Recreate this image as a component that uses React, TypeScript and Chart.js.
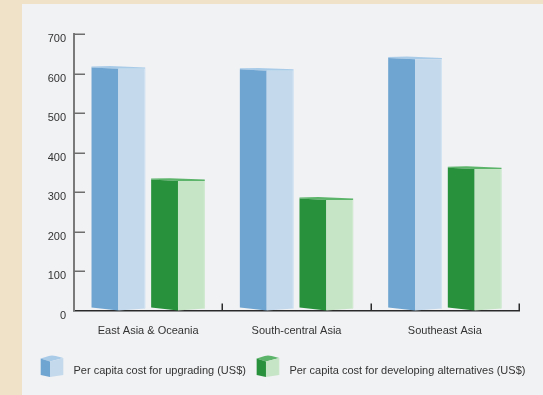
import React, { useEffect, useRef } from "react";
import { Chart, registerables } from "chart.js";

Chart.register(...registerables);

const categories = ["East Asia & Oceania", "South-central Asia", "Southeast Asia"];
const seriesLabels = [
  "Per capita cost for upgrading (US$)",
  "Per capita cost for developing alternatives (US$)",
];
const upgradingCost = [616, 611, 640];
const alternativesCost = [332, 284, 362];
const yMin = 0;
const yMax = 700;
const yStep = 100;

const FONT = "'Liberation Sans', Arial, Helvetica, sans-serif";
const TEXT = "#333333";

const palette = [
  { dark: "#6fa5d1", light: "#c4d9ec", top: "#a9cbe8", edge: "#d4e4f2" },
  { dark: "#28913b", light: "#c6e4c6", top: "#5cb46a", edge: "#d2ebd2" },
];

function poly(ctx: CanvasRenderingContext2D, pts: number[][], color: string) {
  ctx.beginPath();
  ctx.moveTo(pts[0][0], pts[0][1]);
  for (let i = 1; i < pts.length; i++) ctx.lineTo(pts[i][0], pts[i][1]);
  ctx.closePath();
  ctx.fillStyle = color;
  ctx.fill();
}

function makeCube(c: { dark: string; light: string; top: string }) {
  const cv = document.createElement("canvas");
  cv.width = 28;
  cv.height = 34;
  const ctx = cv.getContext("2d")!;
  poly(ctx, [[0.7, 4.5], [12, 1], [23.3, 4], [10, 7.5]], c.top);
  poly(ctx, [[0.7, 4.5], [10, 7.5], [10, 23], [0.7, 21]], c.dark);
  poly(ctx, [[10, 7.5], [23.3, 4], [23.3, 21], [10, 23]], c.light);
  return cv;
}

const bar3d = {
  id: "bar3d",
  afterDatasetsDraw(chart: any) {
    const ctx = chart.ctx as CanvasRenderingContext2D;
    ctx.save();
    chart.data.datasets.forEach((_ds: any, di: number) => {
      const meta = chart.getDatasetMeta(di);
      const c = palette[di];
      meta.data.forEach((el: any) => {
        const { x, y, base, width } = el.getProps(["x", "y", "base", "width"], true);
        const x0 = x - width / 2;
        const x1 = x + width / 2;
        const xm = x;
        poly(ctx, [[x0, y - 0.8], [x0 + width * 0.35, y - 1.2], [x1, y + 0.2], [x1, y + 1.6], [xm, y + 1.6], [x0, y + 0.2]], c.top);
        poly(ctx, [[x0, y + 0.2], [xm, y + 1.6], [xm, base], [x0, base - 3]], c.dark);
        poly(ctx, [[xm, y + 1.6], [x1, y + 1.6], [x1, base - 2], [xm, base]], c.light);
        ctx.fillStyle = c.edge;
        ctx.fillRect(x1 - 1, y + 1.6, 1, base - 2 - (y + 1.6));
      });
    });
    ctx.restore();
  },
};

const axisTicks = {
  id: "axisTicks",
  afterDraw(chart: any) {
    const ctx = chart.ctx as CanvasRenderingContext2D;
    const ys = chart.scales.y;
    const xs = chart.scales.x;
    const area = chart.chartArea;
    ctx.save();
    ctx.strokeStyle = "#6e6e6e";
    ctx.lineWidth = 1.5;
    ys.ticks.forEach((t: any) => {
      const py = Math.round(ys.getPixelForValue(t.value)) + 0.25;
      if (t.value === yMin) return;
      ctx.beginPath();
      ctx.moveTo(area.left, py);
      ctx.lineTo(area.left + 11, py);
      ctx.stroke();
    });
    ctx.strokeStyle = "#2a2a2a";
    const half = (xs.getPixelForValue(1) - xs.getPixelForValue(0)) / 2;
    for (let i = 0; i < categories.length; i++) {
      const px = Math.round(xs.getPixelForValue(i) + half) + 0.25;
      ctx.beginPath();
      ctx.moveTo(px, area.bottom);
      ctx.lineTo(px, area.bottom - 7);
      ctx.stroke();
    }
    ctx.restore();
  },
};

export default function App() {
  const ref = useRef<HTMLCanvasElement | null>(null);

  useEffect(() => {
    if (!ref.current) return;
    const cubes = palette.map(makeCube);
    const chart = new Chart(ref.current, {
      type: "bar",
      data: {
        labels: categories,
        datasets: [
          {
            label: seriesLabels[0],
            data: upgradingCost,
            backgroundColor: "rgba(0,0,0,0)",
            borderWidth: 0,
            categoryPercentage: 0.804,
            barPercentage: 0.9,
          },
          {
            label: seriesLabels[1],
            data: alternativesCost,
            backgroundColor: "rgba(0,0,0,0)",
            borderWidth: 0,
            categoryPercentage: 0.804,
            barPercentage: 0.9,
          },
        ],
      },
      options: {
        responsive: false,
        animation: false,
        devicePixelRatio: 1,
        layout: { padding: { left: 30, right: 0, top: 34, bottom: 8.5 } },
        scales: {
          x: {
            grid: { display: false, drawTicks: false },
            border: { display: true, color: "#2a2a2a", width: 1.5 },
            ticks: { color: TEXT, padding: 14, font: { family: FONT, size: 11 } },
            afterFit: (s: any) => {
              s.height = 45;
            },
          },
          y: {
            min: yMin,
            max: yMax,
            grid: { display: false, drawTicks: false },
            border: { display: true, color: "#7a7a7a", width: 2 },
            ticks: {
              stepSize: yStep,
              color: TEXT,
              padding: 8,
              labelOffset: 5,
              font: { family: FONT, size: 11 },
            },
            afterFit: (s: any) => {
              s.width = 44;
            },
          },
          ySpacer: {
            display: true,
            position: "right",
            min: yMin,
            max: yMax,
            grid: { display: false, drawTicks: false },
            border: { display: false },
            ticks: { display: false },
            afterFit: (s: any) => {
              s.width = 24;
            },
          },
        },
        plugins: {
          tooltip: { enabled: false },
          legend: {
            position: "bottom",
            align: "start",
            labels: {
              usePointStyle: true,
              pointStyleWidth: 28,
              padding: 10,
              color: TEXT,
              font: { family: FONT, size: 11 },
              generateLabels: (ch: any) => {
                const items = Chart.defaults.plugins.legend.labels.generateLabels(ch);
                return items.map((it: any, i: number) => ({ ...it, pointStyle: cubes[i], fontColor: TEXT }));
              },
            },
          },
        },
      },
      plugins: [bar3d, axisTicks],
    } as any);
    return () => chart.destroy();
  }, []);

  return (
    <div style={{ position: "fixed", left: 0, top: 0, width: 543, height: 395, background: "#f0e2c8", overflow: "hidden" }}>
      <div style={{ position: "absolute", left: 22, top: 4, right: 0, bottom: 0, background: "#f1f2f4" }} />
      <canvas ref={ref} width={543} height={395} style={{ position: "absolute", left: 0, top: 0 }} />
    </div>
  );
}
